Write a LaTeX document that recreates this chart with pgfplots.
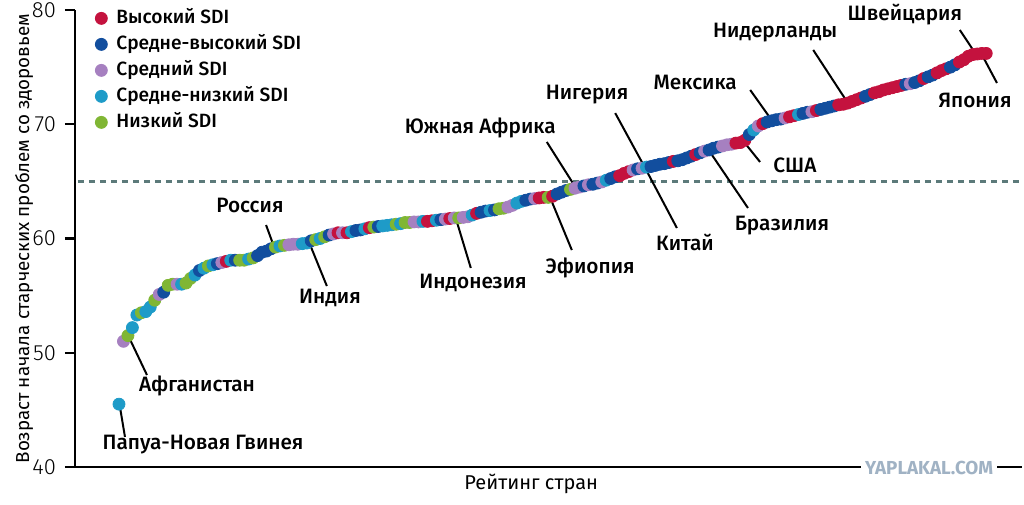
\documentclass[border=0pt]{standalone}
\usepackage{fontspec}
\setmainfont{Fira Sans}
\newfontfamily\medfont{Fira Sans Medium}
\newfontfamily\lightfont{Fira Sans Light}
\usepackage{pgfplots}
\pgfplotsset{compat=1.18}
\definecolor{cH}{RGB}{196,18,62}
\definecolor{cUH}{RGB}{18,78,158}
\definecolor{cM}{RGB}{166,128,192}
\definecolor{cLM}{RGB}{30,155,200}
\definecolor{cL}{RGB}{128,182,52}
\definecolor{cDash}{RGB}{92,122,122}
\definecolor{cWM}{RGB}{160,178,196}
\newcommand\lab{\medfont\fontsize{10.4}{12}\selectfont}
\newcommand\leg{\medfont\fontsize{9.6}{11}\selectfont}
\begin{document}
\begin{tikzpicture}
\path[use as bounding box] (0,0) rectangle (512pt,252pt);
\begin{axis}[
  at={(37.5pt,18.5pt)}, anchor=south west,
  scale only axis, width=473.5pt, height=228.5pt,
  xmin=-8.84, xmax=203.0, ymin=40, ymax=80,
  axis x line*=bottom, axis y line*=left,
  axis line style={line width=1.25pt, black},
  ytick={40,50,60,70,80}, xtick=\empty,
  tick align=outside, major tick length=5pt,
  tick style={line width=1.1pt, black},
  yticklabel style={font=\lightfont\fontsize{11}{12}\selectfont, xshift=-1pt},
  /pgf/number format/assume math mode=true,
  clip=false,
  legend cell align=left,
  legend image code/.code={\path[draw=none,fill=none] (0pt,-0.05pt) rectangle (9pt,0.05pt);\draw[#1] plot coordinates {(3.5pt,0pt)};},
  legend style={at={(axis cs:-4.6,80.44)}, anchor=north west, draw=none, fill=none,
    font=\leg, inner sep=0pt, row sep=0pt,
    nodes={text height=7pt, text depth=2pt, inner ysep=2pt, inner xsep=2pt}},
]
\addplot[draw=cDash, line width=1.2pt, dash pattern=on 3pt off 2.5pt, forget plot]
  coordinates {(-8.2,65) (202.6,65)};
\addplot[scatter, only marks, scatter src=explicit symbolic, mark=*, mark size=3.0pt,
  scatter/classes={
    H={mark=*,draw=cH,fill=cH},
    UH={mark=*,draw=cUH,fill=cUH},
    M={mark=*,draw=cM,fill=cM},
    LM={mark=*,draw=cLM,fill=cLM},
    L={mark=*,draw=cL,fill=cL}}]
  table[x=r,y=v,meta=c]{
r v c
1 45.5 LM
2 51.0 M
3 51.5 L
4 52.2 LM
5 53.3 LM
6 53.5 L
7 53.6 LM
8 54.0 LM
9 54.6 L
10 55.1 M
11 55.3 UH
12 55.9 L
13 56.0 L
14 56.0 M
15 56.0 LM
16 56.1 L
17 56.5 L
18 56.8 LM
19 57.2 UH
20 57.4 LM
21 57.6 L
22 57.7 LM
23 57.8 UH
24 57.9 M
25 58.0 H
26 58.1 LM
27 58.1 UH
28 58.1 L
29 58.1 L
30 58.2 LM
31 58.3 L
32 58.5 UH
33 58.8 UH
34 58.9 UH
35 59.1 UH
36 59.25 L
37 59.35 LM
38 59.4 L
39 59.45 M
40 59.5 M
41 59.5 M
42 59.55 LM
43 59.6 LM
44 59.8 UH
45 59.9 L
46 60.0 LM
47 60.15 L
48 60.3 UH
49 60.4 M
50 60.5 H
51 60.5 M
52 60.5 H
53 60.6 LM
54 60.7 UH
55 60.75 UH
56 60.85 LM
57 60.95 H
58 61.0 L
59 61.05 UH
60 61.1 LM
61 61.15 LM
62 61.2 LM
63 61.25 L
64 61.3 LM
65 61.4 L
66 61.4 L
67 61.45 M
68 61.45 M
69 61.5 LM
70 61.5 H
71 61.55 H
72 61.6 LM
73 61.65 UH
74 61.7 M
75 61.75 H
76 61.8 M
77 61.8 L
78 61.85 M
79 61.9 M
80 62.05 LM
81 62.2 H
82 62.3 UH
83 62.4 UH
84 62.45 LM
85 62.5 UH
86 62.6 L
87 62.65 L
88 62.75 M
89 62.9 M
90 63.1 LM
91 63.25 LM
92 63.35 UH
93 63.45 UH
94 63.5 M
95 63.55 H
96 63.6 H
97 63.6 L
98 63.7 H
99 63.9 UH
100 64.05 UH
101 64.2 UH
102 64.3 L
103 64.4 M
104 64.5 M
105 64.6 UH
106 64.7 M
107 64.75 UH
108 64.85 UH
109 64.95 M
110 65.1 LM
111 65.25 UH
112 65.4 UH
113 65.5 H
114 65.7 H
115 65.85 H
116 66.0 M
117 66.1 UH
118 66.15 M
119 66.25 LM
120 66.3 UH
121 66.4 UH
122 66.5 UH
123 66.55 UH
124 66.65 UH
125 66.75 H
126 66.8 UH
127 66.9 UH
128 67.05 UH
129 67.2 UH
130 67.35 H
131 67.5 UH
132 67.65 M
133 67.75 UH
134 67.9 UH
135 68.0 UH
136 68.1 M
137 68.2 M
138 68.25 M
139 68.35 H
140 68.4 H
141 68.6 H
142 69.1 UH
143 69.5 LM
144 69.85 M
145 70.05 H
146 70.2 UH
147 70.3 UH
148 70.4 UH
149 70.45 UH
150 70.55 M
151 70.65 H
152 70.75 H
153 70.85 LM
154 70.95 UH
155 71.05 UH
156 71.1 M
157 71.2 H
158 71.3 UH
159 71.4 UH
160 71.5 UH
161 71.6 UH
162 71.7 H
163 71.75 H
164 71.85 H
165 72.0 H
166 72.15 H
167 72.3 H
168 72.45 UH
169 72.6 UH
170 72.75 H
171 72.85 H
172 73.0 H
173 73.1 H
174 73.2 H
175 73.3 H
176 73.4 H
177 73.5 UH
178 73.55 M
179 73.65 UH
180 73.8 UH
181 74.0 H
182 74.15 UH
183 74.3 UH
184 74.5 H
185 74.7 H
186 74.85 H
187 75.0 UH
188 75.2 UH
189 75.45 H
190 75.65 H
191 75.95 H
192 76.1 H
193 76.15 H
194 76.2 H
195 76.2 H
};
\legend{Высокий SDI, Средне-высокий SDI, Средний SDI, Средне-низкий SDI, Низкий SDI}
% leader lines
\draw[line width=1pt] (axis cs:33.9,61.18) -- (axis cs:35.7,59.26);
\draw[line width=1pt] (axis cs:43.5,59.69) -- (axis cs:47.5,55.84);
\draw[line width=1pt] (axis cs:3.0,51.55) -- (axis cs:7.26,48.05);
\draw[line width=1pt] (axis cs:1.22,45.25) -- (axis cs:2.34,42.63);
\draw[line width=1pt] (axis cs:76.6,61.44) -- (axis cs:79.7,57.42);
\draw[line width=1pt] (axis cs:97.4,63.63) -- (axis cs:102.3,58.99);
\draw[line width=1pt] (axis cs:96.7,68.45) -- (axis cs:103.5,64.25);
\draw[line width=1pt] (axis cs:112.0,70.98) -- (axis cs:118.7,66.17);
\draw[line width=1pt] (axis cs:118.7,66.17) -- (axis cs:125.8,60.92);
\draw[line width=1pt] (axis cs:133.2,67.57) -- (axis cs:141.7,62.67);
\draw[line width=1pt] (axis cs:141.0,68.36) -- (axis cs:144.4,66.70);
\draw[line width=1pt] (axis cs:142.2,73.0) -- (axis cs:147.3,70.2);
\draw[line width=1pt] (axis cs:156.3,76.5) -- (axis cs:163.9,71.95);
\draw[line width=1pt] (axis cs:189.1,78.25) -- (axis cs:192.5,76.24);
\draw[line width=1pt] (axis cs:194.3,75.89) -- (axis cs:197.4,73.61);
% labels
\node[font=\lab] at (axis cs:30.3,62.93) {Россия};
\node[font=\lab] at (axis cs:48.2,54.79) {Индия};
\node[font=\lab] at (axis cs:18.45,47.09) {Афганистан};
\node[font=\lab] at (axis cs:19.8,41.93) {Папуа-Новая Гвинея};
\node[font=\lab] at (axis cs:80.2,56.1) {Индонезия};
\node[font=\lab] at (axis cs:106.4,57.42) {Эфиопия};
\node[font=\lab] at (axis cs:81.8,69.67) {Южная Африка};
\node[font=\lab] at (axis cs:105.7,72.56) {Нигерия};
\node[font=\lab] at (axis cs:127.6,59.69) {Китай};
\node[font=\lab] at (axis cs:149.3,61.09) {Бразилия};
\node[font=\lab] at (axis cs:152.2,66.43) {США};
\node[font=\lab] at (axis cs:129.9,73.70) {Мексика};
\node[font=\lab] at (axis cs:147.8,77.99) {Нидерланды};
\node[font=\lab] at (axis cs:176.8,79.56) {Швейцария};
\node[font=\lab] at (axis cs:192.5,72.12) {Япония};
% axis titles
\node[font=\fontsize{10}{12}\selectfont] at (axis cs:93.2,38.51) {Рейтинг стран};
\node[font=\fontsize{9.4}{11}\selectfont, xshift=-25.5pt, rotate=90, anchor=center] at (rel axis cs:0,0.5) {Возраст начала старческих проблем со здоровьем};
\node[font=\bfseries\fontsize{9.4}{10}\selectfont, text=cWM, fill=white, inner xsep=2pt, inner ysep=1pt] at (axis cs:182.2,39.9) {YAPLAKAL.COM};
\end{axis}
\end{tikzpicture}
\end{document}
